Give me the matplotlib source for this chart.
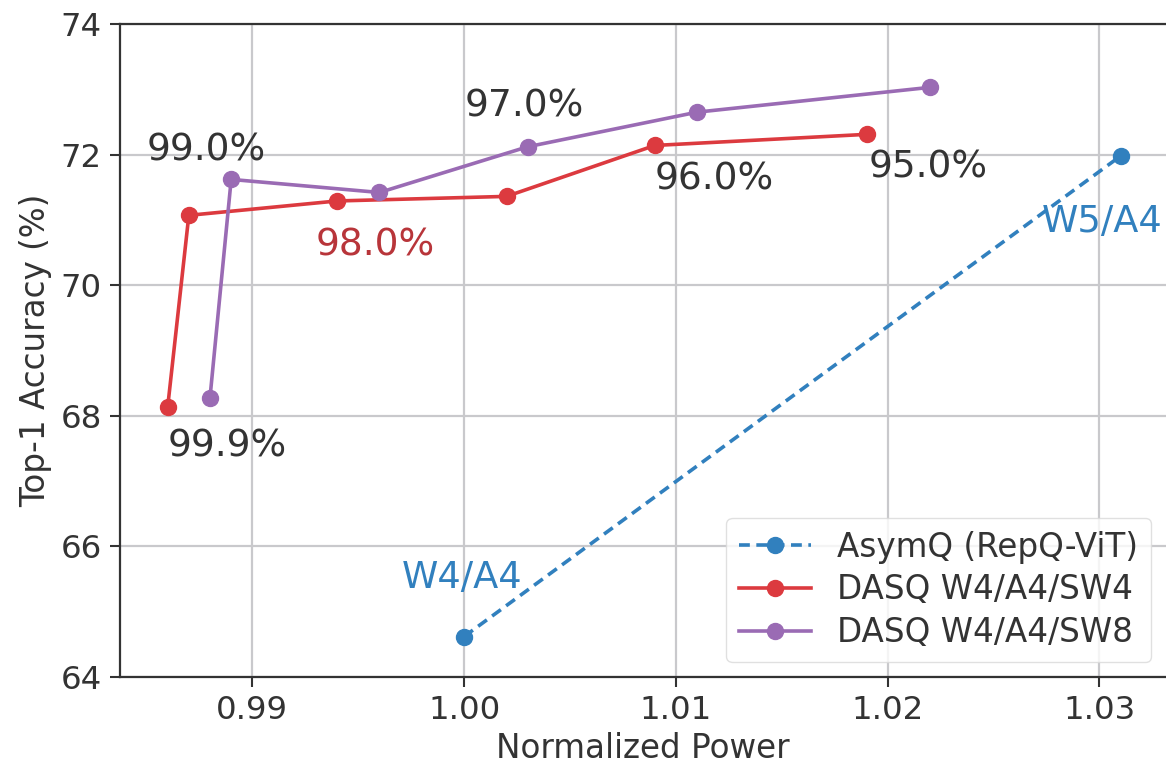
import matplotlib
matplotlib.use("Agg")
import matplotlib.pyplot as plt

# ---- data ----
asym_x = [1.000, 1.031]
asym_y = [64.62, 71.98]

sw4_x = [0.986, 0.987, 0.994, 1.002, 1.009, 1.019]
sw4_y = [68.13, 71.07, 71.29, 71.36, 72.14, 72.31]

sw8_x = [0.988, 0.989, 0.996, 1.003, 1.011, 1.022]
sw8_y = [68.28, 71.62, 71.42, 72.12, 72.65, 73.03]

series_labels = ["AsymQ (RepQ-ViT)", "DASQ W4/A4/SW4", "DASQ W4/A4/SW8"]

pct_labels = ["99.9%", "99.0%", "98.0%", "97.0%", "96.0%", "95.0%"]
pct_pos = [(0.98880, 67.53), (0.98781, 72.07), (0.99580, 70.61),
           (1.00284, 72.73), (1.01182, 71.62), (1.02189, 71.81)]
asym_labels = ["W4/A4", "W5/A4"]

xticks = [0.99, 1.00, 1.01, 1.02, 1.03]
yticks = [64, 66, 68, 70, 72, 74]

# ---- style ----
TXT = "#333333"
BLUE = "#3180be"
RED = "#dc3a3f"
PURPLE = "#9a6bb4"
RED_TXT = "#b8353a"
plt.rcParams['font.family'] = ['DejaVu Sans']
plt.rcParams['text.color'] = TXT
plt.rcParams['axes.labelcolor'] = TXT
plt.rcParams['xtick.color'] = TXT
plt.rcParams['ytick.color'] = TXT

fig = plt.figure(figsize=(11.66, 7.63), dpi=100)
ax = fig.add_axes([120/1166, 86/763, 1046/1166, 653/763])

ax.grid(True, color="#c9c9cc", linewidth=1.6, zorder=0)
ax.set_axisbelow(True)

ax.plot(asym_x, asym_y, linestyle=(0, (3.0, 1.8)), color=BLUE, linewidth=2.6,
        marker='o', markersize=11.5, label=series_labels[0], zorder=3)
ax.plot(sw4_x, sw4_y, linestyle='-', color=RED, linewidth=2.6,
        marker='o', markersize=11.5, label=series_labels[1], zorder=3)
ax.plot(sw8_x, sw8_y, linestyle='-', color=PURPLE, linewidth=2.6,
        marker='o', markersize=11.5, label=series_labels[2], zorder=3)

for i, (lab, (px, py)) in enumerate(zip(pct_labels, pct_pos)):
    col = RED_TXT if lab == "98.0%" else TXT
    ax.text(px, py, lab, fontsize=27, color=col, ha='center', va='center', zorder=4)

ax.text(0.99989, 65.52, asym_labels[0], fontsize=26.5, color=BLUE, ha='center', va='center', zorder=4)
ax.text(0.997, 70.98, asym_labels[1], fontsize=26.5, color=BLUE, ha='right', va='center',
        transform=ax.get_yaxis_transform(), zorder=4)

ax.set_xlim(0.98375, 1.03314)
ax.set_ylim(64, 74)
ax.set_xticks(xticks)
ax.set_xticklabels([f"{v:.2f}" for v in xticks])
ax.set_yticks(yticks)
ax.tick_params(axis='both', labelsize=23.3, length=7, width=1.5, direction='out', pad=6)

for s in ['left', 'bottom', 'top']:
    ax.spines[s].set_color(TXT)
    ax.spines[s].set_linewidth(1.6)
ax.spines['right'].set_visible(False)

ax.set_xlabel("Normalized Power", fontsize=23.5, labelpad=4)
ax.set_ylabel("Top-1 Accuracy (%)", fontsize=23.5, labelpad=6)

leg = ax.legend(loc='lower right', fontsize=23.5, frameon=True, fancybox=True,
                framealpha=0.8, edgecolor="#d9d9d9", borderaxespad=0.45,
                handlelength=2.2, labelspacing=0.3)
for t in leg.get_texts():
    t.set_color(TXT)

fig.savefig("out.png", dpi=100)
